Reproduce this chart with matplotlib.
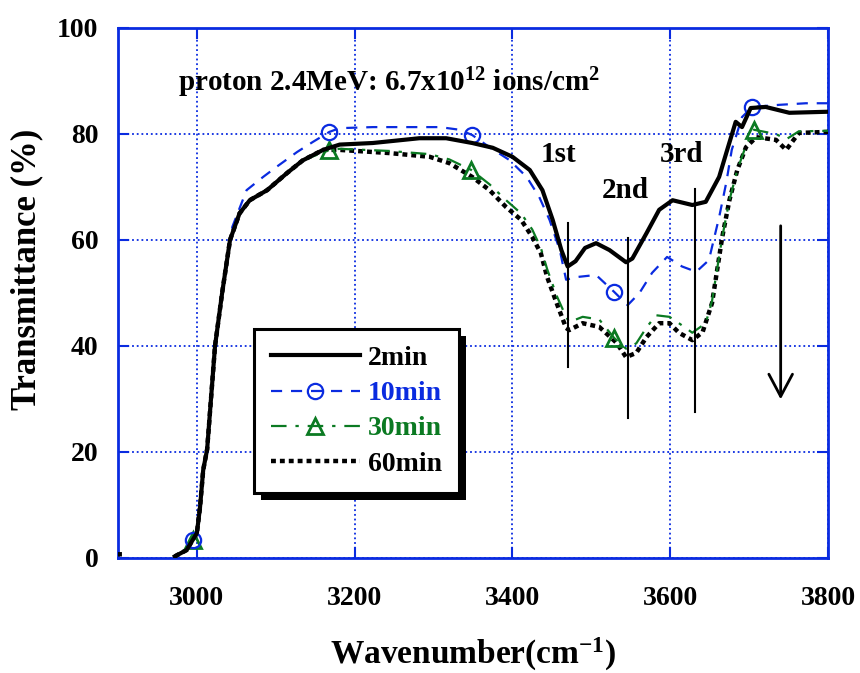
import numpy as np
import matplotlib
matplotlib.use("Agg")
import matplotlib.pyplot as plt
from matplotlib.patches import Rectangle

plt.rcParams['font.family'] = ['Liberation Serif', 'DejaVu Serif']
plt.rcParams['font.weight'] = 'bold'
plt.rcParams['axes.labelweight'] = 'bold'
plt.rcParams['mathtext.fontset'] = 'custom'
plt.rcParams['mathtext.rm'] = 'Liberation Serif:bold'
plt.rcParams['mathtext.bf'] = 'Liberation Serif:bold'
plt.rcParams['mathtext.it'] = 'Liberation Serif:bold'

# data
x_2min = [2972, 2987, 3000, 3004, 3008, 3013, 3023, 3032, 3042, 3054, 3067, 3089, 3114, 3134, 3160,
          3181, 3223, 3282, 3316, 3349, 3375, 3400, 3422, 3438, 3451, 3462, 3470, 3480, 3492, 3506,
          3523, 3544, 3552, 3570, 3586, 3603, 3628, 3645, 3662, 3671, 3683, 3691, 3702, 3721, 3751, 3800]
y_2min = [0.3, 1.5, 4.7, 9.6, 16.6, 20.5, 40, 50, 60, 65, 67.5, 69.4, 72.6, 75, 77,
          78, 78.3, 79.2, 79.2, 78.3, 77.4, 75.7, 73.2, 69.4, 63.8, 58.1, 55, 56, 58.5, 59.4,
          58.1, 55.8, 56.5, 61.3, 65.7, 67.5, 66.6, 67.2, 71.9, 76.4, 82.3, 81.3, 84.9, 85.1, 84, 84.2]

x_10min = [2972, 2987, 2995, 3000, 3004, 3008, 3013, 3023, 3032, 3042, 3045, 3063, 3084, 3101, 3127,
           3147, 3168, 3181, 3223, 3308, 3333, 3349, 3371, 3396, 3418, 3434, 3447, 3460, 3468, 3481,
           3506, 3529, 3546, 3561, 3577, 3596, 3615, 3633, 3649, 3662, 3671, 3678, 3691, 3704, 3738,
           3772, 3800]
y_10min = [0.3, 1.5, 3.3, 4.7, 9.6, 16.6, 20.5, 40, 50, 60, 62.5, 69.4, 71.9, 73.8, 76.6,
           78.5, 80.4, 81.1, 81.3, 81.3, 80.8, 79.8, 77.5, 75.1, 71.9, 68.1, 63.8, 58.1, 52.5, 53,
           53.4, 50.2, 47.7, 50, 53.8, 56.8, 55, 54, 56.2, 64.3, 70.8, 77, 83.2, 85.1, 85.5,
           85.8, 85.8]

x_30min = [2972, 2987, 2995, 3000, 3004, 3008, 3013, 3023, 3032, 3042, 3054, 3067, 3089, 3114, 3134,
           3168, 3181, 3244, 3295, 3320, 3348, 3371, 3392, 3411, 3425, 3436, 3444, 3456, 3468, 3472,
           3489, 3510, 3529, 3544, 3557, 3570, 3582, 3599, 3611, 3628, 3645, 3653, 3666, 3675, 3685,
           3696, 3706, 3734, 3747, 3763, 3800]
y_30min = [0.3, 1.5, 3.3, 4.7, 9.6, 16.6, 20.5, 40, 50, 60, 65, 67.5, 69.4, 72.6, 75,
           77, 77.2, 76.8, 76.2, 75.2, 73.2, 70.5, 67.5, 65, 62, 58.5, 54.5, 49.5, 45.5, 44.5,
           45.5, 45, 41.5, 39.5, 40.5, 43.5, 45.8, 45.5, 44.3, 42.5, 44.3, 48.5, 60.6, 67.5, 73.2,
           77.8, 80.8, 80, 79, 80.5, 80.6]

x_60min = [2900, 2905, np.nan, 2972, 2987, 3000, 3004, 3008, 3013, 3023, 3032, 3042, 3054, 3067, 3089,
           3114, 3134, 3160, 3181, 3244, 3295, 3320, 3349, 3371, 3392, 3411, 3425, 3436, 3444, 3456,
           3468, 3472, 3489, 3510, 3532, 3544, 3557, 3570, 3586, 3599, 3611, 3628, 3641, 3653, 3666,
           3675, 3685, 3696, 3709, 3734, 3747, 3763, 3800]
y_60min = [0.7, 0.7, np.nan, 0.3, 1.5, 4.7, 9.6, 16.6, 20.5, 40, 50, 60, 65, 67.5, 69.4,
           72.6, 75, 77, 77, 76.4, 75.7, 74.5, 71.9, 69.4, 66.2, 63.8, 60.6, 57.5, 53, 48.1,
           43.4, 43, 44.3, 43.6, 40.6, 37.9, 38.7, 41.7, 44.3, 44.3, 42.5, 41.1, 42.6, 48.1, 60.6,
           67.5, 73.2, 77.5, 79.4, 78.9, 77, 80.2, 80.4]

marks_10min = [2995, 3168, 3349, 3529, 3704]
marks_30min = [2995, 3168, 3348, 3529, 3706]

peak_x = [3470, 3547, 3632]
peak_lo = [36, 26.4, 27.5]
peak_hi = [63.2, 60.4, 69.6]
peak_labels = ['1st', '2nd', '3rd']
label_x = [3436, 3513, 3587]
label_y = [74.7, 67.9, 74.7]

arrow_x = 3740
arrow_top = 63.2
arrow_bottom = 29.4

blue = '#0a2be0'
green = '#0b7a22'


def mark_idx(xs, marks):
    xs = np.asarray(xs, dtype=float)
    return [int(np.nanargmin(np.abs(xs - m))) for m in marks]


fig = plt.figure(figsize=(8.6, 6.73), dpi=100)
ax = fig.add_axes([0.1372, 0.1709, 0.8256, 0.7875])

ax.plot(x_60min, y_60min, color='black', lw=3.2, linestyle=(0, (1.1, 0.9)),
        dash_capstyle='butt', label='60min', zorder=3)
ax.plot(x_30min, y_30min, color=green, lw=1.6, linestyle=(0, (7, 4, 1.5, 4)),
        marker='^', markersize=11, markerfacecolor='none', markeredgewidth=2,
        markevery=mark_idx(x_30min, marks_30min), label='30min', zorder=4)
ax.plot(x_10min, y_10min, color=blue, lw=1.6, linestyle=(0, (5, 4)),
        marker='o', markersize=11, markerfacecolor='none', markeredgewidth=1.6,
        markevery=mark_idx(x_10min, marks_10min), label='10min', zorder=4)
ax.plot(x_2min, y_2min, color='black', lw=3, label='2min', zorder=5)

for px, lo, hi in zip(peak_x, peak_lo, peak_hi):
    ax.plot([px, px], [lo, hi], color='black', lw=1.5, zorder=6)
for lx, ly, t in zip(label_x, label_y, peak_labels):
    ax.text(lx, ly, t, fontsize=21, ha='left', va='baseline')

ax.annotate('', xy=(arrow_x, arrow_bottom), xytext=(arrow_x, arrow_top),
            arrowprops=dict(arrowstyle='->,head_length=1.6,head_width=0.85', lw=2, color='black'))

ax.text(2976, 88, r'proton 2.4MeV: 6.7x10$^{12}$ ions/cm$^{2}$', fontsize=21,
        ha='left', va='baseline')

ax.set_xlim(2900, 3800)
ax.set_ylim(0, 100)
ax.set_xticks([3000, 3200, 3400, 3600, 3800])
ax.set_yticks([0, 20, 40, 60, 80, 100])
ax.grid(True, color=blue, linestyle=(0, (1, 1.6)), lw=1.3)
for s in ax.spines.values():
    s.set_color(blue)
    s.set_linewidth(2)
ax.tick_params(direction='in', length=8, width=1.5, color=blue, labelsize=20,
               top=True, right=True)
ax.tick_params(axis='y', pad=14)
ax.tick_params(axis='x', pad=20)

ax.set_xlabel(r'Wavenumber(cm$^{-1}$)', fontsize=24, fontweight='bold')
ax.set_ylabel('Transmittance (%)', fontsize=25, fontweight='bold')
ax.xaxis.set_label_coords(0.5, -0.148)
ax.yaxis.set_label_coords(-0.105, 0.545)

handles, labels = ax.get_legend_handles_labels()
order = [3, 2, 1, 0]
leg = ax.legend([handles[i] for i in order], [labels[i] for i in order],
                loc='upper left', bbox_to_anchor=(0.1915, 0.432), borderaxespad=0,
                fontsize=20, handlelength=3.2, handletextpad=0.3, labelspacing=0.35,
                borderpad=0.6, fancybox=False, framealpha=1, edgecolor='black',
                labelcolor='linecolor')
leg.get_frame().set_linewidth(2.2)
leg.set_zorder(10)

fig.canvas.draw()
bb = leg.get_window_extent()
inv = ax.transAxes.inverted()
(x0, y0) = inv.transform((bb.x0 + 7, bb.y0 - 7))
(x1, y1) = inv.transform((bb.x1 + 7, bb.y1 - 7))
ax.add_patch(Rectangle((x0, y0), x1 - x0, y1 - y0, transform=ax.transAxes,
                       facecolor='black', edgecolor='none', zorder=9, clip_on=False))

fig.savefig('out.png', dpi=100)
